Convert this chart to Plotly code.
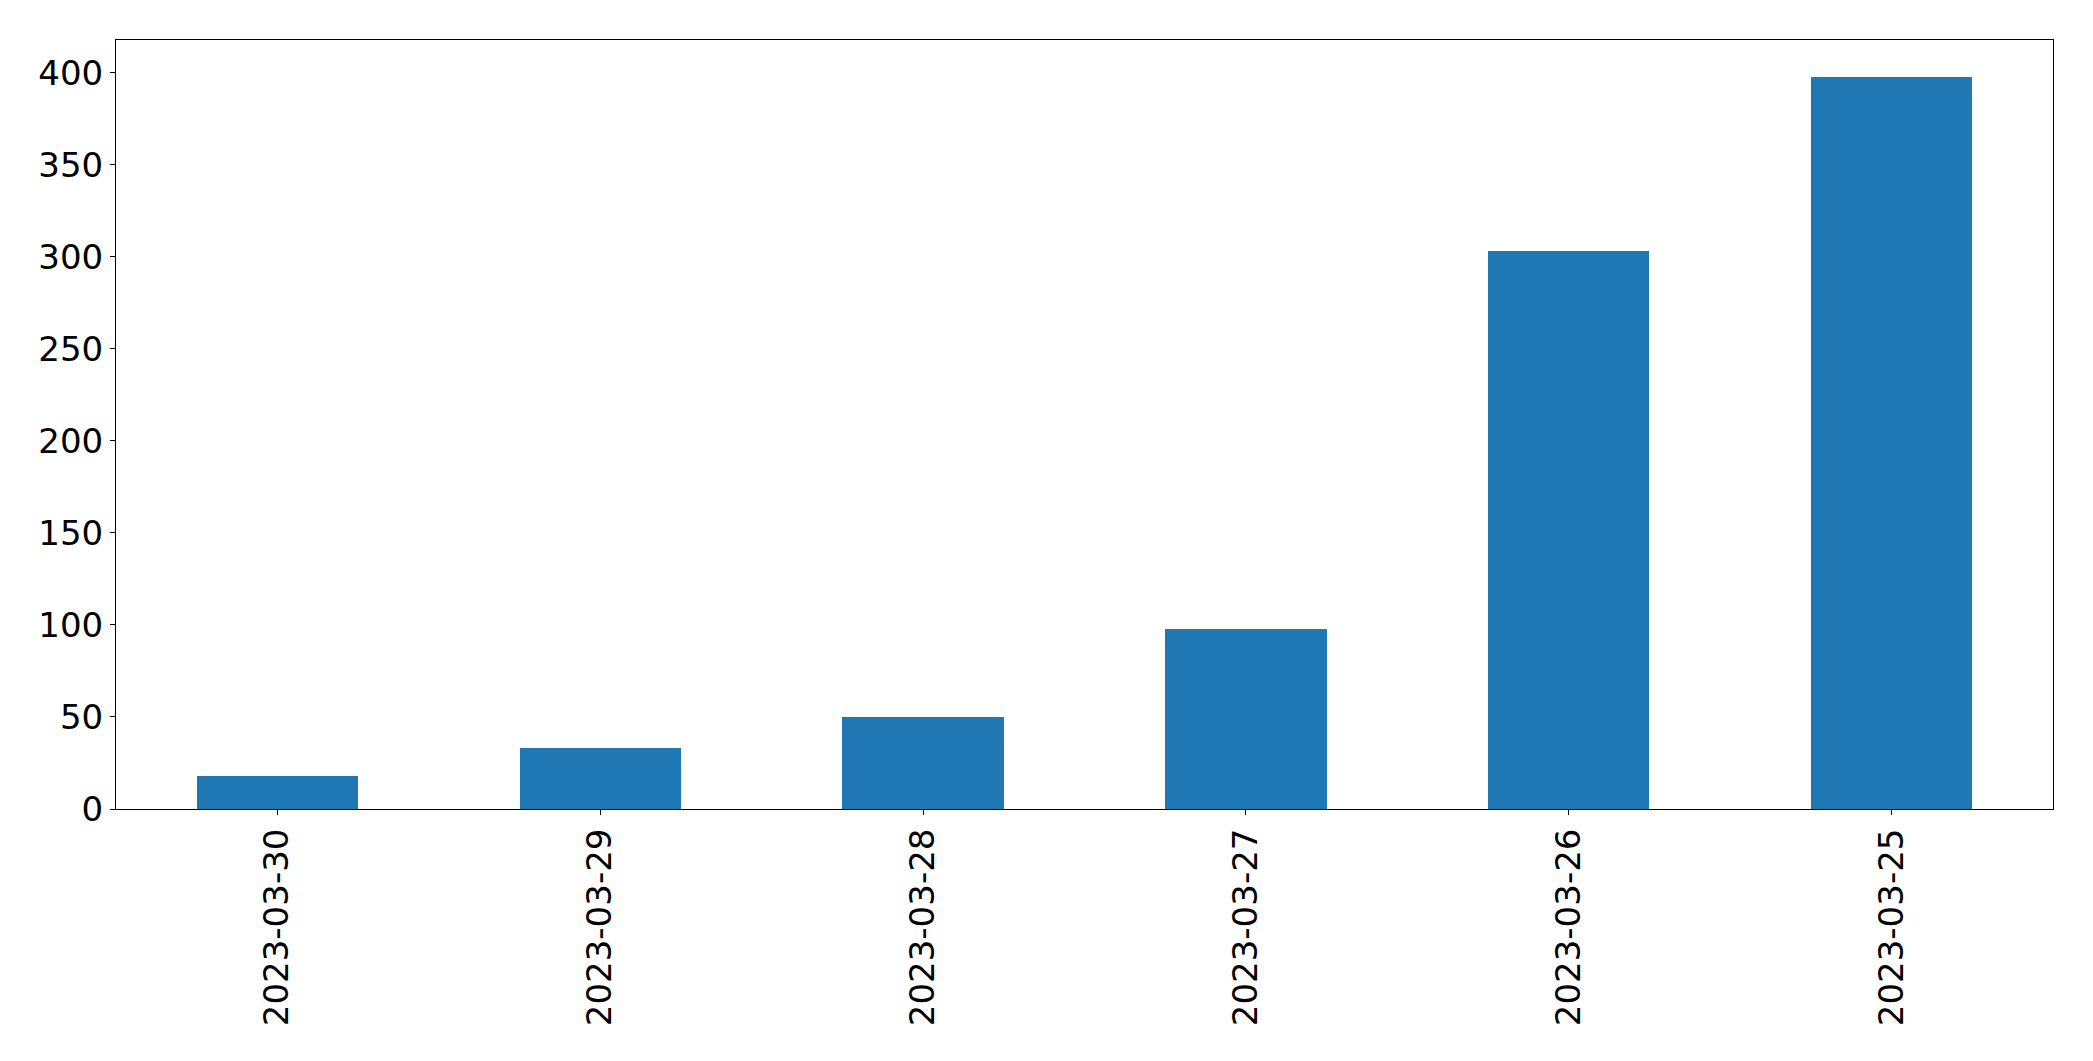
import plotly.graph_objects as go

dates = ["2023-03-30", "2023-03-29", "2023-03-28", "2023-03-27", "2023-03-26", "2023-03-25"]
counts = [18, 33, 50, 98, 303, 398]

FONT = "DejaVu Sans"
FS = 34
fig = go.Figure()
fig.add_trace(go.Bar(
    x=list(range(len(dates))), y=counts, width=0.5,
    marker=dict(color="#1f77b4", line=dict(width=0)),
))
# page body has an 8px default margin, so margins are offset by 8px
fig.update_layout(
    width=2093, height=1061,
    margin=dict(l=108, r=48, t=32, b=260, autoexpand=False),
    paper_bgcolor="white", plot_bgcolor="white",
    font=dict(family=FONT, size=FS, color="black"),
    showlegend=False, bargap=0,
)
fig.update_xaxes(
    range=[-0.5, len(dates) - 0.5], automargin=False,
    tickmode="array", tickvals=list(range(len(dates))), ticktext=dates,
    tickangle=-90, ticks="outside", ticklen=5, tickwidth=1, tickcolor="black",
    showline=True, linecolor="black", linewidth=1, mirror=True,
    showgrid=False, zeroline=False, tickfont=dict(family=FONT, size=FS),
)
fig.update_yaxes(
    range=[0, max(counts) * 1.05], automargin=False,
    tickmode="array", tickvals=[0, 50, 100, 150, 200, 250, 300, 350, 400],
    ticks="outside", ticklen=5, tickwidth=1, tickcolor="black",
    showline=True, linecolor="black", linewidth=1, mirror=True,
    showgrid=False, zeroline=False, tickfont=dict(family=FONT, size=FS),
)
fig.write_html("out.html")
